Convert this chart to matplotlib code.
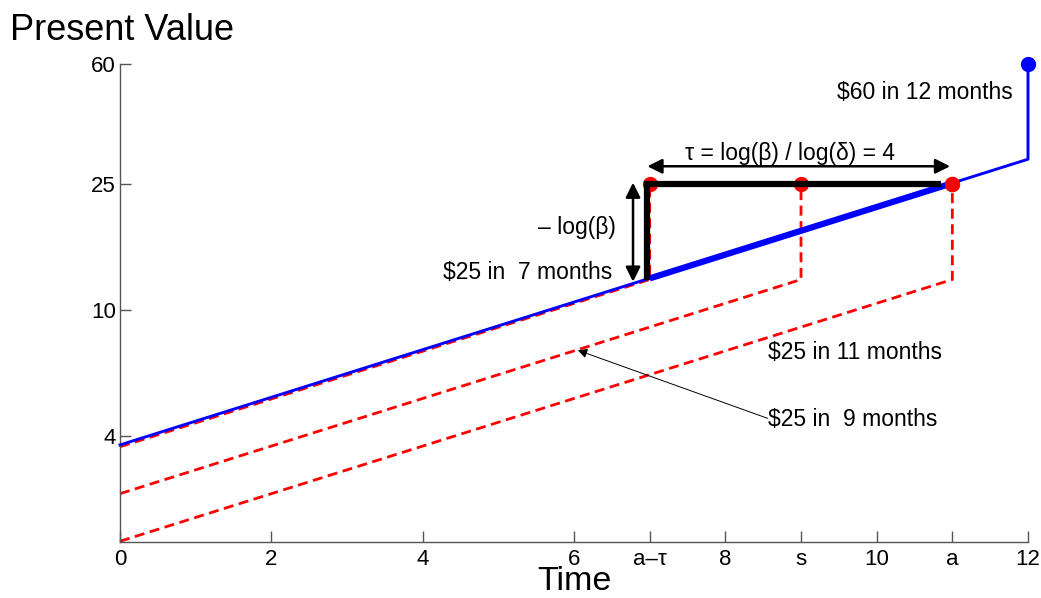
import matplotlib
matplotlib.use("Agg")
import matplotlib.pyplot as plt

plt.rcParams['font.family'] = ['Liberation Sans', 'DejaVu Sans']

# Time axis ticks
x_ticks = [0, 2, 4, 6, 7, 8, 9, 10, 11, 12]
x_tick_labels = ['0', '2', '4', '6', 'a\u2013\u03c4', '8', 's', '10', 'a', '12']
y_ticks = [4, 10, 25, 60]

# Large-later reward: $60 at month 12 (discounted present value curve)
blue_t = [0, 12, 12]
blue_v = [3.75, 30.0, 60.0]
# Portion of the large-reward curve between a-tau and a
blue_thick_t = [7, 11]
blue_thick_v = [12.6, 25.2]

# Small-sooner rewards: $25 at months 7, 9 and 11
red_times = [7, 9, 11]
red_start = [3.70, 2.63, 1.86]
red_corner = 12.5
red_amount = 25

# Beta step and tau plateau
black_t = [6.96, 6.96, 10.85]
black_v = [12.5, 25.0, 25.0]

fig = plt.figure(figsize=(10.41, 5.98), dpi=100)
ax = fig.add_axes([120 / 1041, 1 - 542 / 598, 908 / 1041, 478 / 598])
ax.set_yscale('log')
ax.set_xlim(0, 12)
ax.set_ylim(1.85, 60)

red = '#ff0000'
blue = '#0000ff'

for t, v0 in zip(red_times, red_start):
    ax.plot([0, t, t], [v0, red_corner, red_amount], color=red, lw=2.0,
            dashes=(3.6, 2.0), zorder=2, clip_on=False)
    ax.plot([t], [red_amount], 'o', color=red, ms=10, zorder=3, clip_on=False)

ax.plot(blue_t, blue_v, color=blue, lw=2.1, zorder=4, clip_on=False)
ax.plot(blue_thick_t, blue_thick_v, color=blue, lw=4.5, solid_capstyle='butt', zorder=4)
ax.plot([blue_t[-1]], [blue_v[-1]], 'o', color=blue, ms=10, zorder=5, clip_on=False)

ax.plot(black_t, black_v, color='black', lw=4.5, solid_joinstyle='miter',
        solid_capstyle='butt', zorder=6)
ax.plot([11], [red_amount], 'o', color=red, ms=10, zorder=7)

arrow = dict(arrowstyle='<|-|>', color='black', lw=1.8, mutation_scale=22,
             shrinkA=0, shrinkB=0)
ax.annotate('', xy=(6.78, 25.3), xytext=(6.78, 12.3), arrowprops=arrow, zorder=8)
ax.annotate('', xy=(6.97, 28.5), xytext=(10.97, 28.5), arrowprops=arrow, zorder=8)

fs = 16.5
ax.text(6.55, 18.3, '\u2013 log(\u03b2)', ha='right', va='center', fontsize=fs)
ax.text(4.27, 13.2, '$25 in  7 months', ha='left', va='center', fontsize=fs)
ax.text(8.85, 31.3, '\u03c4 = log(\u03b2) / log(\u03b4) = 4', ha='center', va='center', fontsize=fs)
ax.text(9.48, 48.6, '$60 in 12 months', ha='left', va='center', fontsize=fs)
ax.text(8.56, 7.36, '$25 in 11 months', ha='left', va='center', fontsize=fs)
ax.text(8.56, 4.5, '$25 in  9 months', ha='left', va='center', fontsize=fs)
ax.annotate('', xy=(6.05, 7.47), xytext=(8.56, 4.55),
            arrowprops=dict(arrowstyle='-|>', color='black', lw=0.7,
                            mutation_scale=14, shrinkA=0, shrinkB=0))

for side in ('top', 'right'):
    ax.spines[side].set_visible(False)
for side in ('left', 'bottom'):
    ax.spines[side].set_color('#555555')
    ax.spines[side].set_linewidth(1.0)

ax.set_xticks(x_ticks)
ax.set_xticklabels(x_tick_labels)
ax.set_yticks(y_ticks)
ax.set_yticklabels([str(v) for v in y_ticks])
ax.yaxis.set_minor_locator(matplotlib.ticker.NullLocator())
ax.tick_params(direction='in', length=8, width=1.0, color='#555555',
               labelsize=16, pad=5)
ax.tick_params(axis='y', pad=3)

fig.text(574 / 1041, 1 - 590 / 598, 'Time', fontsize=24.5, ha='center', va='baseline')
fig.text(10 / 1041, 1 - 31 / 598, 'Present Value', fontsize=26, ha='left', va='center')

fig.savefig('out.png', dpi=100)
